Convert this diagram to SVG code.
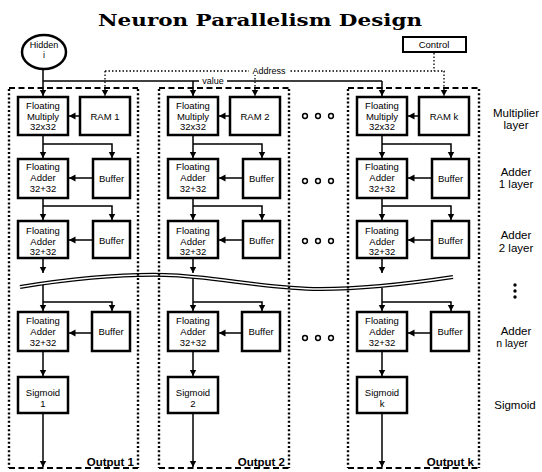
<svg xmlns="http://www.w3.org/2000/svg" width="542" height="472" viewBox="0 0 542 472">
<defs>
<style>
.box{fill:#fff;stroke:#000;stroke-width:2.5}
.t{font-family:"Liberation Sans",Arial,sans-serif;font-size:9.5px;text-anchor:middle;fill:#000}
.lab{font-family:"Liberation Sans",Arial,sans-serif;font-size:11.5px;text-anchor:middle;fill:#000}
.out{font-family:"Liberation Sans",Arial,sans-serif;font-size:11.5px;font-weight:bold;text-anchor:end;fill:#000}
.c{stroke:#000;stroke-width:1.5;fill:none}
.ca{stroke:#000;stroke-width:1.5;fill:none;marker-end:url(#ah)}
.d{stroke:#000;stroke-width:1.3;stroke-dasharray:1.5 2;fill:none}
.da{stroke:#000;stroke-width:1.3;stroke-dasharray:1.5 2;fill:none;marker-end:url(#ah)}
.edgeH{stroke:#000;stroke-width:2.2;stroke-dasharray:6 3.5;fill:none}
.edgeV{stroke:#000;stroke-width:2.4;stroke-dasharray:2 2.2;fill:none}
.oo{fill:#fff;stroke:#000;stroke-width:1.5}
</style>
<marker id="ah" markerUnits="userSpaceOnUse" markerWidth="8" markerHeight="8" refX="6.5" refY="3.5" orient="auto">
<path d="M0,0 L6.5,3.5 L0,7 z" fill="#000"/>
</marker>
</defs>
<rect width="542" height="472" fill="#fff"/>

<text x="98" y="26" font-family="'DejaVu Serif','Liberation Serif',serif" font-weight="bold" font-size="17" textLength="324" lengthAdjust="spacingAndGlyphs">Neuron Parallelism Design</text>

<!-- break wave -->
<g id="break">
<path d="M20,287 C70,279 120,274 165,275 C215,276 265,289 320,289 C370,289 420,282 453,277" stroke="#000" stroke-width="4" fill="none"/>
<path d="M20,287 C70,279 120,274 165,275 C215,276 265,289 320,289 C370,289 420,282 453,277" stroke="#fff" stroke-width="1.5" fill="none"/>
</g>

<!-- column containers -->
<g id="col1">
<path class="edgeH" d="M9,88 H138 M9,468 H138"/>
<path class="edgeV" d="M9,89 V468 M138,89 V468"/>
<text class="out" x="134" y="466">Output 1</text>
</g>
<g id="col2">
<path class="edgeH" d="M159,88 H289 M159,468 H289"/>
<path class="edgeV" d="M159,89 V468 M289,89 V468"/>
<text class="out" x="285" y="466">Output 2</text>
</g>
<g id="colk">
<path class="edgeH" d="M348,88 H479 M348,468 H479"/>
<path class="edgeV" d="M348,89 V468 M479,89 V468"/>
<text class="out" x="474" y="466">Output k</text>
</g>

<!-- connectors -->
<g id="connectors">
<path class="ca" d="M43,69 V96"/>
<path class="c" d="M43,81 H382"/>
<path class="ca" d="M193,81 V96"/>
<path class="ca" d="M382,81 V96"/>
<path class="d" d="M434,53 V71"/>
<path class="d" d="M105,71 H445"/>
<path class="da" d="M105,71 V96"/>
<path class="da" d="M255,71 V96"/>
<path class="da" d="M444,71 V96"/>
<!-- column 1 -->
<path class="ca" d="M80,116 H69"/>
<path class="ca" d="M43,135 V158"/>
<path class="ca" d="M43,144 H112 V158"/>
<path class="ca" d="M93,178 H69"/>
<path class="ca" d="M43,198 V220"/>
<path class="ca" d="M43,206 H112 V220"/>
<path class="ca" d="M93,240 H69"/>
<path class="ca" d="M43,258 V273"/>
<path class="ca" d="M43,285 V311"/>
<path class="ca" d="M43,302 H112 V311"/>
<path class="ca" d="M92,333 H69"/>
<path class="ca" d="M43,351 V376"/>
<path class="ca" d="M43,413 V467"/>
<!-- column 2 -->
<path class="ca" d="M230,116 H219"/>
<path class="ca" d="M193,135 V158"/>
<path class="ca" d="M193,144 H262 V158"/>
<path class="ca" d="M243,178 H219"/>
<path class="ca" d="M193,198 V220"/>
<path class="ca" d="M193,206 H262 V220"/>
<path class="ca" d="M243,240 H219"/>
<path class="ca" d="M193,258 V273"/>
<path class="ca" d="M193,278 V311"/>
<path class="ca" d="M193,302 H262 V311"/>
<path class="ca" d="M242,333 H219"/>
<path class="ca" d="M193,351 V376"/>
<path class="ca" d="M193,413 V467"/>
<!-- column k -->
<path class="ca" d="M419,116 H408"/>
<path class="ca" d="M382,135 V158"/>
<path class="ca" d="M382,144 H451 V158"/>
<path class="ca" d="M432,178 H408"/>
<path class="ca" d="M382,198 V220"/>
<path class="ca" d="M382,206 H451 V220"/>
<path class="ca" d="M432,240 H408"/>
<path class="ca" d="M382,258 V273"/>
<path class="ca" d="M382,288 V311"/>
<path class="ca" d="M382,302 H451 V311"/>
<path class="ca" d="M431,333 H408"/>
<path class="ca" d="M382,351 V376"/>
<path class="ca" d="M382,413 V467"/>
<!-- line labels -->
<rect x="249" y="66" width="40" height="9" fill="#fff"/>
<text class="t" x="269" y="74" style="font-size:9px">Address</text>
<rect x="199" y="77" width="28" height="8" fill="#fff"/>
<text class="t" x="213" y="84" style="font-size:9px">value</text>
</g>

<!-- top nodes -->
<g id="hidden">
<ellipse cx="44" cy="52" rx="22" ry="17" fill="#fff" stroke="#000" stroke-width="2.5"/>
<text class="t" x="44" y="48" style="font-size:9px">Hidden</text>
<text class="t" x="44" y="58" style="font-size:9px">i</text>
</g>
<g id="control">
<rect class="box" x="403" y="37" width="63" height="15" style="stroke-width:2"/>
<text class="t" x="434" y="48">Control</text>
</g>

<!-- column 1 nodes -->
<g id="mult1"><rect class="box" x="18" y="97" width="50" height="38"/><text class="t" x="43" y="109">Floating</text><text class="t" x="43" y="119.5">Multiply</text><text class="t" x="43" y="130">32x32</text></g>
<g id="ram1"><rect class="box" x="80" y="97" width="50" height="38"/><text class="t" x="105" y="120">RAM 1</text></g>
<g id="add1_1"><rect class="box" x="18" y="159" width="50" height="39"/><text class="t" x="43" y="170">Floating</text><text class="t" x="43" y="181">Adder</text><text class="t" x="43" y="192">32+32</text></g>
<g id="buf1_1"><rect class="box" x="93" y="159" width="37" height="39"/><text class="t" x="111.5" y="182">Buffer</text></g>
<g id="add2_1"><rect class="box" x="18" y="221" width="50" height="37"/><text class="t" x="43" y="234">Floating</text><text class="t" x="43" y="244.5">Adder</text><text class="t" x="43" y="255">32+32</text></g>
<g id="buf2_1"><rect class="box" x="93" y="221" width="37" height="37"/><text class="t" x="111.5" y="243.5">Buffer</text></g>
<g id="addn_1"><rect class="box" x="18" y="312" width="50" height="39"/><text class="t" x="43" y="324">Floating</text><text class="t" x="43" y="335">Adder</text><text class="t" x="43" y="346">32+32</text></g>
<g id="bufn_1"><rect class="box" x="92" y="312" width="38" height="39"/><text class="t" x="111" y="335">Buffer</text></g>
<g id="sig1"><rect class="box" x="18" y="377" width="50" height="36"/><text class="t" x="43" y="396">Sigmoid</text><text class="t" x="43" y="407">1</text></g>

<!-- column 2 nodes -->
<g id="mult2"><rect class="box" x="168" y="97" width="50" height="38"/><text class="t" x="193" y="109">Floating</text><text class="t" x="193" y="119.5">Multiply</text><text class="t" x="193" y="130">32x32</text></g>
<g id="ram2"><rect class="box" x="230" y="97" width="50" height="38"/><text class="t" x="255" y="120">RAM 2</text></g>
<g id="add1_2"><rect class="box" x="168" y="159" width="50" height="39"/><text class="t" x="193" y="170">Floating</text><text class="t" x="193" y="181">Adder</text><text class="t" x="193" y="192">32+32</text></g>
<g id="buf1_2"><rect class="box" x="243" y="159" width="37" height="39"/><text class="t" x="261.5" y="182">Buffer</text></g>
<g id="add2_2"><rect class="box" x="168" y="221" width="50" height="37"/><text class="t" x="193" y="234">Floating</text><text class="t" x="193" y="244.5">Adder</text><text class="t" x="193" y="255">32+32</text></g>
<g id="buf2_2"><rect class="box" x="243" y="221" width="37" height="37"/><text class="t" x="261.5" y="243.5">Buffer</text></g>
<g id="addn_2"><rect class="box" x="168" y="312" width="50" height="39"/><text class="t" x="193" y="324">Floating</text><text class="t" x="193" y="335">Adder</text><text class="t" x="193" y="346">32+32</text></g>
<g id="bufn_2"><rect class="box" x="242" y="312" width="38" height="39"/><text class="t" x="261" y="335">Buffer</text></g>
<g id="sig2"><rect class="box" x="168" y="377" width="50" height="36"/><text class="t" x="193" y="396">Sigmoid</text><text class="t" x="193" y="407">2</text></g>

<!-- column k nodes -->
<g id="multk"><rect class="box" x="357" y="97" width="50" height="38"/><text class="t" x="382" y="109">Floating</text><text class="t" x="382" y="119.5">Multiply</text><text class="t" x="382" y="130">32x32</text></g>
<g id="ramk"><rect class="box" x="419" y="97" width="50" height="38"/><text class="t" x="444" y="120">RAM k</text></g>
<g id="add1_k"><rect class="box" x="357" y="159" width="50" height="39"/><text class="t" x="382" y="170">Floating</text><text class="t" x="382" y="181">Adder</text><text class="t" x="382" y="192">32+32</text></g>
<g id="buf1_k"><rect class="box" x="432" y="159" width="37" height="39"/><text class="t" x="450.5" y="182">Buffer</text></g>
<g id="add2_k"><rect class="box" x="357" y="221" width="50" height="37"/><text class="t" x="382" y="234">Floating</text><text class="t" x="382" y="244.5">Adder</text><text class="t" x="382" y="255">32+32</text></g>
<g id="buf2_k"><rect class="box" x="432" y="221" width="37" height="37"/><text class="t" x="450.5" y="243.5">Buffer</text></g>
<g id="addn_k"><rect class="box" x="357" y="312" width="50" height="39"/><text class="t" x="382" y="324">Floating</text><text class="t" x="382" y="335">Adder</text><text class="t" x="382" y="346">32+32</text></g>
<g id="bufn_k"><rect class="box" x="431" y="312" width="38" height="39"/><text class="t" x="450" y="335">Buffer</text></g>
<g id="sigk"><rect class="box" x="357" y="377" width="50" height="36"/><text class="t" x="382" y="396">Sigmoid</text><text class="t" x="382" y="407">k</text></g>

<!-- ellipsis between columns -->
<g id="ellipsis">
<circle class="oo" cx="305" cy="116" r="2.4"/><circle class="oo" cx="318" cy="116" r="2.4"/><circle class="oo" cx="331" cy="116" r="2.4"/>
<circle class="oo" cx="305" cy="181" r="2.4"/><circle class="oo" cx="318" cy="181" r="2.4"/><circle class="oo" cx="331" cy="181" r="2.4"/>
<circle class="oo" cx="305" cy="241" r="2.4"/><circle class="oo" cx="318" cy="241" r="2.4"/><circle class="oo" cx="331" cy="241" r="2.4"/>
<circle class="oo" cx="305" cy="338" r="2.4"/><circle class="oo" cx="318" cy="338" r="2.4"/><circle class="oo" cx="331" cy="338" r="2.4"/>
</g>

<!-- layer labels -->
<g id="labels">
<text class="lab" x="516" y="117">Multiplier</text>
<text class="lab" x="516" y="129">layer</text>
<text class="lab" x="516" y="176">Adder</text>
<text class="lab" x="516" y="188">1 layer</text>
<text class="lab" x="516" y="239">Adder</text>
<text class="lab" x="516" y="252">2 layer</text>
<circle cx="515" cy="285" r="1.7" fill="#000"/>
<circle cx="515" cy="291" r="1.7" fill="#000"/>
<circle cx="515" cy="297" r="1.7" fill="#000"/>
<text class="lab" x="516" y="335">Adder</text>
<text class="lab" x="512" y="347" style="font-size:10.5px">n layer</text>
<text class="lab" x="515" y="409">Sigmoid</text>
</g>
</svg>
